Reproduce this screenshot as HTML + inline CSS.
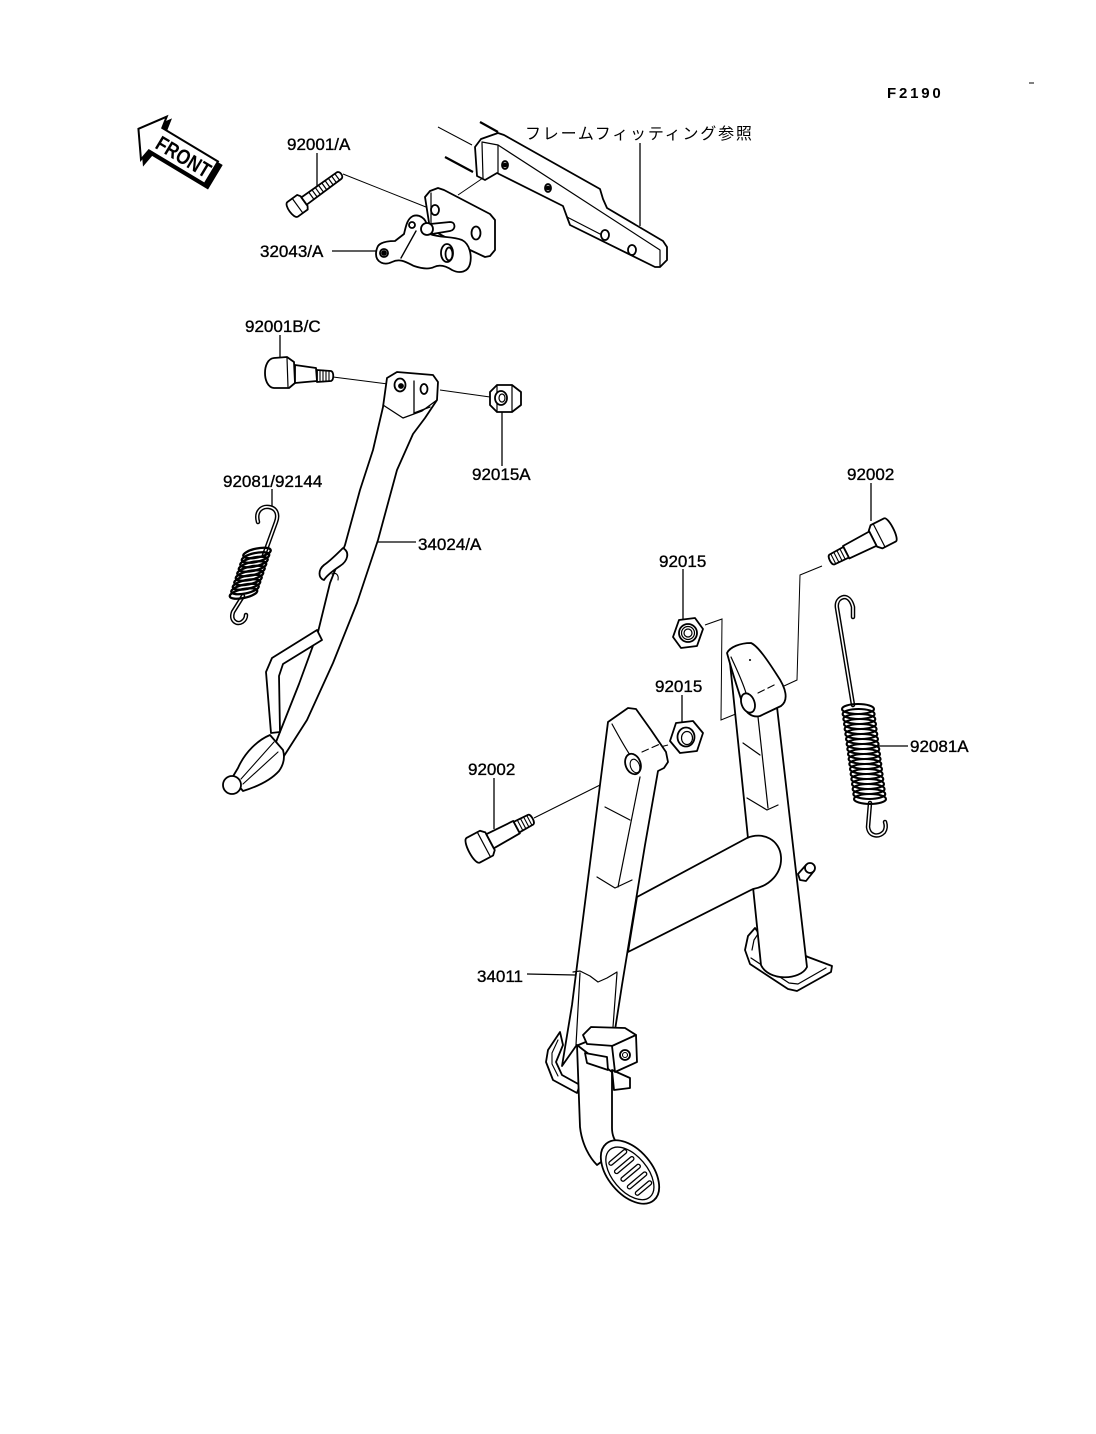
<!DOCTYPE html>
<html><head><meta charset="utf-8">
<style>
html,body{margin:0;padding:0;background:#fff;}
svg{display:block;}
text{font-family:"Liberation Sans","Noto Sans CJK JP",sans-serif;fill:#000;}
</style></head><body>
<svg width="1096" height="1434" viewBox="0 0 1096 1434" xmlns="http://www.w3.org/2000/svg">

<!-- ===== TEXT ===== -->
<text x="887" y="98" font-size="15" font-weight="bold" letter-spacing="2.8">F2190</text>
<line x1="1029" y1="83" x2="1034" y2="83" stroke="#000" stroke-width="1"/>
<text x="525" y="139" font-size="16" letter-spacing="1.8" style="font-family:'Noto Sans CJK JP',sans-serif">フレームフィッティング参照</text>
<g font-size="17" stroke="#000" stroke-width="0.35">
<text x="287" y="150">92001/A</text>
<text x="260" y="257">32043/A</text>
<text x="245" y="332">92001B/C</text>
<text x="472" y="480">92015A</text>
<text x="223" y="487">92081/92144</text>
<text x="418" y="550">34024/A</text>
<text x="847" y="480">92002</text>
<text x="659" y="567">92015</text>
<text x="655" y="692">92015</text>
<text x="468" y="775">92002</text>
<text x="910" y="752">92081A</text>
<text x="477" y="982">34011</text>
</g>

<!-- ===== LEADERS & ASSEMBLY LINES ===== -->
<g fill="none" stroke="#000" stroke-width="1.3">
<line x1="317" y1="153" x2="317" y2="186"/>
<line x1="332" y1="251" x2="376" y2="251"/>
<line x1="640" y1="143" x2="640" y2="226"/>
<line x1="280" y1="335" x2="280" y2="359"/>
<line x1="502" y1="412" x2="502" y2="466"/>
<line x1="272" y1="489" x2="272" y2="509"/>
<line x1="378" y1="542" x2="416" y2="542"/>
<line x1="871" y1="483" x2="871" y2="521"/>
<line x1="683" y1="569" x2="683" y2="619"/>
<line x1="682" y1="695" x2="682" y2="722"/>
<line x1="494" y1="778" x2="494" y2="829"/>
<line x1="877" y1="746" x2="908" y2="746"/>
<line x1="527" y1="974" x2="575" y2="975"/>
</g>
<g fill="none" stroke="#000" stroke-width="1">
<line x1="343" y1="174" x2="431" y2="209"/>
<line x1="458" y1="195" x2="483" y2="178"/>
<line x1="438" y1="127" x2="472" y2="145"/>
<line x1="333" y1="377" x2="396" y2="385"/>
<line x1="440" y1="390" x2="490" y2="397"/>
<polyline points="822,566 800,575 797,680 784,686"/>
<polyline points="705,625 722,619 721,720 748,709"/>
<line x1="648" y1="750" x2="655" y2="748"/>
<line x1="660" y1="747" x2="668" y2="745"/>
<line x1="534" y1="818" x2="628" y2="771"/>
</g>
<g fill="none" stroke="#000" stroke-width="2.2">
<line x1="480" y1="122" x2="498" y2="132"/>
<line x1="445" y1="157" x2="473" y2="172"/>
</g>

<!-- ===== FRONT ARROW ===== -->
<g transform="translate(180,156) rotate(31)">
<polygon points="-45,0 -27,-25 -25,-13 40,-13 40,13 -25,13 -27,25" fill="#000" stroke="#000" stroke-width="2.5"/>
</g>
<g transform="translate(177,152) rotate(31)">
<polygon points="-45,0 -27,-25 -25,-13 40,-13 40,13 -25,13 -27,25" fill="#fff" stroke="#000" stroke-width="2"/>
<text x="-22" y="8" font-size="21" font-weight="bold" textLength="60" lengthAdjust="spacingAndGlyphs">FRONT</text>
</g>

<g fill="#fff" stroke="#000" stroke-width="1.8" stroke-linejoin="round" stroke-linecap="round">

<!-- ===== BOLT 92001/A ===== -->
<g transform="translate(300,204) rotate(-36)">
<path d="M -9,-9 L 3,-9 L 5,-6 L 5,6 L 3,9 L -9,9 C -14,9 -14,-9 -9,-9 Z"/>
<line x1="-3" y1="-9" x2="-3" y2="9" stroke-width="1.2"/>
<path d="M 5,-4.5 L 48,-4 C 52,-4 52,4 48,4 L 5,4.5 Z"/>
<g stroke-width="1.2"><line x1="14" y1="-4" x2="14" y2="4"/><line x1="18" y1="-4" x2="18" y2="4"/><line x1="22" y1="-4" x2="22" y2="4"/><line x1="26" y1="-4" x2="26" y2="4"/><line x1="30" y1="-4" x2="30" y2="4"/><line x1="34" y1="-4" x2="34" y2="4"/><line x1="38" y1="-4" x2="38" y2="4"/><line x1="42" y1="-4" x2="42" y2="4"/><line x1="46" y1="-4" x2="46" y2="4"/></g>
</g>

<!-- ===== FRAME FITTING BAR ===== -->
<path d="M 475,147 L 481,139 L 498,133 L 504,135 L 600,189 L 603,199 L 607,208 L 663,241 L 667,247 L 667,260 L 660,267 L 655,267 L 570,225 L 567,217 L 563,206 L 497,173 L 485,180 L 477,176 Z"/>
<g fill="none" stroke-width="1.2">
<polyline points="482,142 498,145 660,250 660,266"/>
<line x1="482" y1="143" x2="483" y2="178"/>
<line x1="498" y1="145" x2="498" y2="173"/>
<polyline points="567,217 600,234"/>
</g>
<ellipse cx="505" cy="165" rx="3" ry="4"/><circle cx="505" cy="165" r="1.5" fill="#000"/>
<ellipse cx="548" cy="188" rx="3" ry="4"/><circle cx="548" cy="188" r="1.5" fill="#000"/>
<ellipse cx="605" cy="235" rx="4" ry="5"/>
<ellipse cx="632" cy="250" rx="4" ry="5"/>

<!-- ===== PLATE ===== -->
<path d="M 425,197 L 430,191 L 438,188 L 444,190 L 490,214 L 495,220 L 495,250 L 490,256 L 485,257 L 470,250 L 430,229 Z"/>
<line x1="431" y1="193" x2="431" y2="226" stroke-width="1.2"/>
<ellipse cx="435" cy="210" rx="4" ry="5"/>
<ellipse cx="476" cy="233" rx="4.5" ry="6.5"/>

<!-- ===== LEVER 32043/A ===== -->
<path d="M 430,224 L 450,222 C 456,222 456,230 450,231 L 432,234 Z"/>
<path d="M 378,246 C 381,242 388,241 395,241 L 404,234 C 406,226 407,219 413,216 C 419,214 426,218 427,226 L 430,234 C 440,238 452,236 462,240 C 470,244 472,256 470,264 C 468,272 460,274 452,270 C 446,266 440,264 434,267 C 428,270 420,268 414,266 C 406,262 400,258 392,262 C 384,266 376,262 376,254 C 376,250 377,248 378,246 Z"/>
<circle cx="427" cy="229" r="6"/>
<line x1="416" y1="231" x2="401" y2="258" stroke-width="1.4"/>
<circle cx="412" cy="225" r="3"/>
<circle cx="384" cy="253" r="4"/><circle cx="384" cy="253" r="2" fill="#000"/>
<ellipse cx="447" cy="253" rx="6" ry="9"/>
<ellipse cx="449" cy="254" rx="3.5" ry="6.5"/>

<!-- ===== SIDE STAND BOLT 92001B/C ===== -->
<path d="M 274,358 L 287,357 L 294,362 L 295,383 L 289,388 L 274,388 C 262,387 262,359 274,358 Z"/>
<line x1="287" y1="358" x2="288" y2="387" stroke-width="1.2"/>
<path d="M 295,365 L 316,368 L 317,381 L 295,383 Z"/>
<path d="M 317,370 L 331,371 C 334,372 334,380 331,381 L 317,382 Z"/>
<g stroke-width="1.1"><line x1="320" y1="370" x2="320" y2="382"/><line x1="323" y1="370" x2="323" y2="382"/><line x1="326" y1="371" x2="326" y2="381"/><line x1="329" y1="371" x2="329" y2="381"/></g>

<!-- ===== NUT 92015A ===== -->
<polygon points="490,392 497,385 512,385 521,392 521,405 512,412 497,412 490,405"/>
<g fill="none" stroke-width="1.2"><line x1="512" y1="385" x2="512" y2="412"/><line x1="497" y1="385" x2="497" y2="412"/></g>
<ellipse cx="501" cy="398" rx="6" ry="7"/>
<ellipse cx="502" cy="398" rx="3" ry="4" stroke-width="1.2"/>

<!-- ===== SIDE STAND 34024/A ===== -->
<path d="M 383,407 L 387,378 L 397,372 L 433,375 L 438,382 L 437,400 L 425,418 L 413,434 L 397,470 L 378,540 L 357,603 L 333,663 L 307,720 L 284,756 L 276,742 L 299,684 L 318,632 L 330,583 L 345,545 L 360,490 L 373,450 Z"/>
<g fill="none" stroke-width="1.3">
<polyline points="383,405 403,418 422,411 437,400"/>
<line x1="414" y1="381" x2="414" y2="413"/>
<line x1="414" y1="413" x2="430" y2="407"/>
</g>
<ellipse cx="400" cy="385" rx="5.5" ry="6.5"/><circle cx="401" cy="386" r="2" fill="#000"/>
<ellipse cx="424" cy="389" rx="3.5" ry="5"/>
<!-- spring hook tab -->
<path d="M 343,548 C 350,552 348,561 340,566 C 334,570 327,575 324,580 C 318,578 318,570 324,565 C 330,561 336,555 343,548 Z"/>
<path d="M 332,574 C 336,572 339,575 338,580" fill="none" stroke-width="1.1"/>
<!-- kick tab -->
<path d="M 317,630 L 322,640 L 283,664 L 279,676 L 280,732 L 271,733 L 266,672 L 272,658 Z"/>
<!-- foot -->
<path d="M 270,735 C 258,740 245,752 238,768 L 232,778 L 243,791 C 256,787 270,781 279,771 C 284,764 285,757 283,750 Z"/>
<g fill="none" stroke-width="1.1"><line x1="241" y1="779" x2="274" y2="742"/><line x1="243" y1="784" x2="278" y2="752"/></g>
<circle cx="232" cy="785" r="9"/>

<!-- ===== SPRING 92081/92144 ===== -->
<g fill="none" stroke-linecap="round">
<path d="M 258,522 C 255,511 262,506 269,507 C 276,508 279,514 276,522 L 264,555" stroke="#000" stroke-width="4.5"/>
<path d="M 258,522 C 255,511 262,506 269,507 C 276,508 279,514 276,522 L 264,555" stroke="#fff" stroke-width="1.6"/>
<path d="M 243,596 L 233,612 C 230,621 237,625 242,622 C 245,620 246,617 246,615" stroke="#000" stroke-width="4.5"/>
<path d="M 243,596 L 233,612 C 230,621 237,625 242,622 C 245,620 246,617 246,615" stroke="#fff" stroke-width="1.6"/>
</g>
<g fill="none" stroke-width="2.3">
<ellipse cx="257" cy="553" rx="14" ry="4.5" transform="rotate(-12 257 553)"/>
<ellipse cx="255.5" cy="557.5" rx="14" ry="4.5" transform="rotate(-12 255.5 557.5)"/>
<ellipse cx="254" cy="562" rx="14" ry="4.5" transform="rotate(-12 254 562)"/>
<ellipse cx="252.5" cy="566.5" rx="14" ry="4.5" transform="rotate(-12 252.5 566.5)"/>
<ellipse cx="251" cy="571" rx="14" ry="4.5" transform="rotate(-12 251 571)"/>
<ellipse cx="249.5" cy="575.5" rx="14" ry="4.5" transform="rotate(-12 249.5 575.5)"/>
<ellipse cx="248" cy="580" rx="14" ry="4.5" transform="rotate(-12 248 580)"/>
<ellipse cx="246.5" cy="584.5" rx="14" ry="4.5" transform="rotate(-12 246.5 584.5)"/>
<ellipse cx="245" cy="589" rx="14" ry="4.5" transform="rotate(-12 245 589)"/>
<ellipse cx="243.5" cy="593.5" rx="14" ry="4.5" transform="rotate(-12 243.5 593.5)"/>
</g>

<!-- ===== SPRING 92081A ===== -->
<g fill="none" stroke-linecap="round">
<path d="M 853,617 L 853,607 C 851,599 847,597 844,597 C 839,598 836,602 837,608 L 853,705" stroke="#000" stroke-width="4.5"/>
<path d="M 853,617 L 853,607 C 851,599 847,597 844,597 C 839,598 836,602 837,608 L 853,705" stroke="#fff" stroke-width="1.6"/>
<path d="M 870,803 L 868,827 C 869,836 878,838 884,832 C 886,829 886,825 885,822" stroke="#000" stroke-width="4.5"/>
<path d="M 870,803 L 868,827 C 869,836 878,838 884,832 C 886,829 886,825 885,822" stroke="#fff" stroke-width="1.6"/>
</g>
<g fill="none" stroke-width="2.1">
<ellipse cx="858" cy="709" rx="16" ry="5"/>
<ellipse cx="858.6" cy="714" rx="16" ry="5"/>
<ellipse cx="859.3" cy="719" rx="16" ry="5"/>
<ellipse cx="860" cy="724" rx="16" ry="5"/>
<ellipse cx="860.6" cy="729" rx="16" ry="5"/>
<ellipse cx="861.3" cy="734" rx="16" ry="5"/>
<ellipse cx="862" cy="739" rx="16" ry="5"/>
<ellipse cx="862.6" cy="744" rx="16" ry="5"/>
<ellipse cx="863.3" cy="749" rx="16" ry="5"/>
<ellipse cx="864" cy="754" rx="16" ry="5"/>
<ellipse cx="864.6" cy="759" rx="16" ry="5"/>
<ellipse cx="865.3" cy="764" rx="16" ry="5"/>
<ellipse cx="866" cy="769" rx="16" ry="5"/>
<ellipse cx="866.6" cy="774" rx="16" ry="5"/>
<ellipse cx="867.3" cy="779" rx="16" ry="5"/>
<ellipse cx="868" cy="784" rx="16" ry="5"/>
<ellipse cx="868.6" cy="789" rx="16" ry="5"/>
<ellipse cx="869.3" cy="794" rx="16" ry="5"/>
<ellipse cx="870" cy="799" rx="16" ry="5"/>
</g>

<!-- ===== BOLTS 92002 ===== -->
<g transform="translate(880,535) rotate(153)">
<path d="M -11,-13 L 4,-13 L 8,-9 L 8,9 L 4,13 L -11,13 C -16,13 -16,-13 -11,-13 Z"/>
<line x1="1" y1="-13" x2="1" y2="13" stroke-width="1.2"/>
<path d="M 8,-8 L 38,-7 L 38,7 L 8,8 Z"/>
<path d="M 38,-6 L 54,-5.5 C 57,-5 57,5 54,5.5 L 38,6 Z"/>
<g stroke-width="1.1"><line x1="42" y1="-6" x2="42" y2="6"/><line x1="45.5" y1="-6" x2="45.5" y2="6"/><line x1="49" y1="-5.5" x2="49" y2="5.5"/><line x1="52.5" y1="-5.5" x2="52.5" y2="5.5"/></g>
</g>
<g transform="translate(483,845) rotate(-28)">
<path d="M -11,-14 L 4,-14 L 8,-10 L 8,10 L 4,14 L -11,14 C -17,14 -17,-14 -11,-14 Z"/>
<line x1="1" y1="-14" x2="1" y2="14" stroke-width="1.2"/>
<path d="M 8,-8 L 38,-7 L 38,7 L 8,8 Z"/>
<path d="M 38,-6 L 54,-5.5 C 57,-5 57,5 54,5.5 L 38,6 Z"/>
<g stroke-width="1.1"><line x1="42" y1="-6" x2="42" y2="6"/><line x1="45.5" y1="-6" x2="45.5" y2="6"/><line x1="49" y1="-5.5" x2="49" y2="5.5"/><line x1="52.5" y1="-5.5" x2="52.5" y2="5.5"/></g>
</g>

<!-- ===== NUTS 92015 ===== -->
<polygon points="703,629 697,646 681,648 673,637 679,620 695,618"/>
<circle cx="688" cy="633" r="9"/>
<circle cx="688" cy="633" r="6.5" fill="none" stroke-width="1.2"/>
<circle cx="688" cy="633" r="4" fill="none" stroke-width="1.2"/>
<polygon points="703,733 697,751 680,753 670,741 676,723 693,721"/>
<ellipse cx="686" cy="737" rx="8.5" ry="9.5"/>
<ellipse cx="687" cy="738" rx="5.5" ry="6.5" stroke-width="1.2"/>

<!-- ===== CENTER STAND 34011 ===== -->
<!-- right foot -->
<path d="M 760,935 L 755,928 L 748,936 L 745,950 L 750,964 L 788,989 L 797,991 L 831,972 L 832,966 L 808,957 Z"/>
<polyline points="752,950 754,940 758,934" fill="none" stroke-width="1.2"/>
<polyline points="751,958 789,983 798,984 826,968" fill="none" stroke-width="1.2"/>
<!-- right leg -->
<path d="M 730,663 L 761,965 C 768,981 800,981 807,967 L 777,707 Z"/>
<g fill="none" stroke-width="1.2">
<line x1="758" y1="717" x2="768" y2="808"/>
<line x1="743" y1="743" x2="760" y2="755"/>
<polyline points="747,798 767,810 778,805"/>
</g>
<!-- right cap -->
<path d="M 727,653 C 730,647 740,643 751,643 C 758,646 768,661 777,675 C 786,688 789,700 781,706 L 760,716 C 752,718 746,713 743,705 C 738,690 733,675 727,653 Z"/>
<path d="M 731,657 C 736,668 742,680 746,693" fill="none" stroke-width="1.2"/>
<line x1="758" y1="693" x2="776" y2="684" stroke-width="1.1" stroke-dasharray="7,4"/>
<circle cx="750" cy="660" r="0.8" fill="#000" stroke-width="0.5"/>
<ellipse cx="748" cy="703" rx="6.5" ry="10" transform="rotate(-20 748 703)"/>
<!-- pin -->
<path d="M 800,880 L 798,874 L 806,865 L 814,871 L 806,881 Z"/>
<ellipse cx="810" cy="868" rx="5" ry="5"/>
<!-- cross tube -->
<path d="M 637,897 L 747,838 C 763,831 780,840 781,857 C 782,873 770,886 753,889 L 628,952 Z"/>
<!-- left leg -->
<path d="M 608,722 L 628,708 L 636,709 L 651,730 L 666,752 L 668,762 L 664,768 L 658,771 L 645,845 L 622,985 L 615,1030 L 576,1046 L 562,1066 L 572,1005 Z"/>
<g fill="none" stroke-width="1.2">
<path d="M 612,724 C 618,735 624,746 630,755"/>
<line x1="640" y1="777" x2="618" y2="887"/>
<line x1="605" y1="807" x2="630" y2="820"/>
<polyline points="597,877 615,888 632,880"/>
<polyline points="573,972 580,971 590,976 598,982 607,978 617,972"/>
<line x1="580" y1="973" x2="576" y2="1045"/>
<line x1="617" y1="973" x2="613" y2="1027"/>
</g>
<line x1="642" y1="752" x2="660" y2="744" stroke-width="1.1" stroke-dasharray="7,4"/>
<ellipse cx="633" cy="764" rx="7.5" ry="10.5" transform="rotate(-20 633 764)"/>
<ellipse cx="635" cy="766" rx="4.5" ry="7" transform="rotate(-20 635 766)" stroke-width="1.1"/>
<!-- left foot -->
<path d="M 560,1032 L 548,1050 L 546,1062 L 553,1080 L 577,1093 L 580,1085 L 562,1075 L 556,1062 L 563,1045 Z"/>
<polyline points="558,1040 552,1053 552,1064 558,1076" fill="none" stroke-width="1.1"/>
<!-- pedal arm -->
<path d="M 577,1045 L 580,1127 C 582,1145 590,1158 597,1165 L 620,1148 C 614,1140 612,1135 612,1128 L 612,1072 Z"/>
<!-- clamp -->
<path d="M 612,1070 L 630,1078 L 630,1088 L 614,1090 Z"/>
<path d="M 583,1035 L 591,1027 L 625,1028 L 636,1035 L 614,1046 L 587,1044 Z"/>
<path d="M 585,1053 L 607,1057 L 608,1070 L 587,1063 Z"/>
<path d="M 612,1046 L 636,1035 L 637,1062 L 615,1072 Z"/>
<circle cx="625" cy="1055" r="5"/>
<circle cx="625" cy="1055" r="2.5" stroke-width="1.1"/>
<!-- pedal -->
<g transform="translate(630,1172) rotate(50)">
<ellipse cx="0" cy="0" rx="37" ry="22"/>
<ellipse cx="1" cy="1" rx="31" ry="17.5" fill="none" stroke-width="1.3"/>
<g stroke-width="1.3">
<rect x="-21" y="-11" width="4" height="22" rx="2"/>
<rect x="-11" y="-12" width="4" height="24" rx="2"/>
<rect x="-1" y="-12" width="4" height="24" rx="2"/>
<rect x="9" y="-12" width="4" height="24" rx="2"/>
<rect x="19" y="-10" width="4" height="20" rx="2"/>
</g>
</g>

</g>
</svg>
</body></html>
